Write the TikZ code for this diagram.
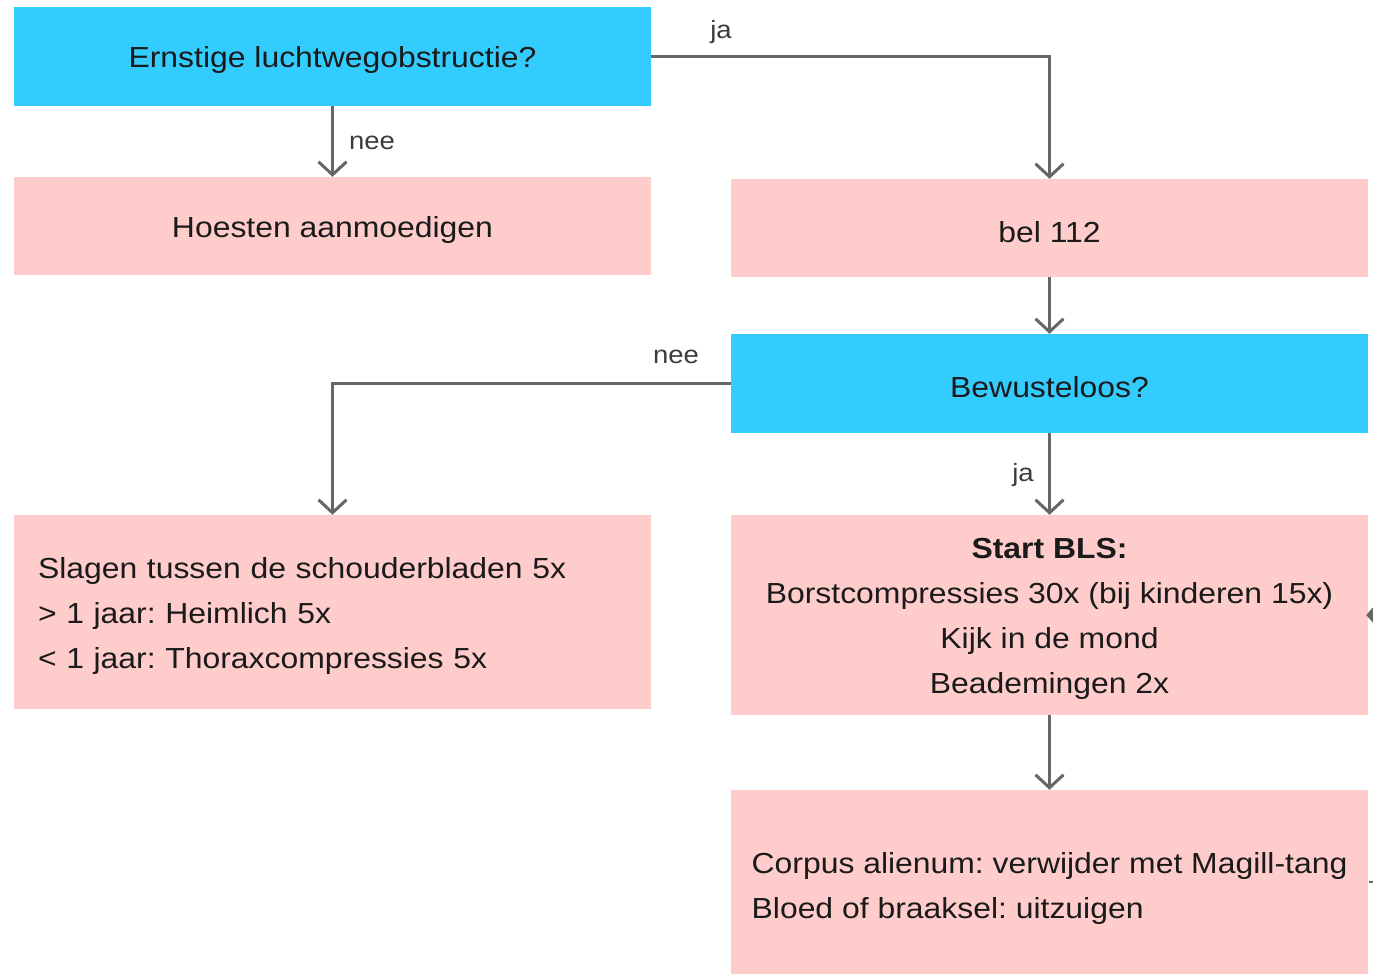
\documentclass[tikz,border=0pt]{standalone}
\usepackage{fontspec}
\setmainfont[FakeStretch=1.1]{Liberation Sans}
\usetikzlibrary{arrows.meta}
\definecolor{qblue}{HTML}{33CCFF}
\definecolor{apink}{HTML}{FFCCCC}
\definecolor{lgray}{HTML}{666666}
\definecolor{tgray}{HTML}{1A1A1A}
\begin{document}
\frenchspacing
\begin{tikzpicture}[x=1pt,y=-1pt,
  boxbase/.style={draw=none, minimum width=637, inner sep=0},
  qbox/.style={boxbase, fill=qblue},
  abox/.style={boxbase, fill=apink},
  txt/.style={inner sep=0, text=tgray, yshift=-4pt, font=\fontsize{29}{45}\selectfont},
  conn/.style={draw=lgray, line width=3pt, -{Straight Barb[length=13pt,width=28pt,line width=3pt]}},
  lbl/.style={text=tgray!85, font=\fontsize{25}{30}\selectfont, inner sep=0}
]
\useasboundingbox (0,0) rectangle (1373,974);
\node[qbox, minimum height=98] (b1) at (332.5,56.5) {};
\node[abox, minimum height=98] (b2) at (332.5,226) {};
\node[abox, minimum height=98] (b3) at (1049.5,228) {};
\node[qbox, minimum height=99] (b4) at (1049.5,383.5) {};
\node[abox, minimum height=194] (b5) at (332.5,612) {};
\node[abox, minimum height=200] (b6) at (1049.5,615) {};
\node[abox, minimum height=188] (b7) at (1049.5,884) {};
\node[txt] (t1) at (b1) {Ernstige luchtwegobstructie?};
\node[txt] (t2) at (b2) {Hoesten aanmoedigen};
\node[txt] (t3) at (b3) {bel 112};
\node[txt] (t4) at (b4) {Bewusteloos?};
\node[txt, text width=589, align=left] (t5) at (b5)
  {Slagen tussen de schouderbladen 5x\\ > 1 jaar: Heimlich 5x\\ < 1 jaar: Thoraxcompressies 5x};
\node[txt, align=center] (t6) at (b6)
  {\textbf{Start BLS:}\\ Borstcompressies 30x (bij kinderen 15x)\\ Kijk in de mond\\ Beademingen 2x};
\node[txt, align=left] (t7) at (b7)
  {Corpus alienum: verwijder met Magill-tang\\ Bloed of braaksel: uitzuigen};
\coordinate (offr) at (1400,615);
\coordinate (offr2) at (1400,882);
\coordinate (b7r) at (1369,882);
\draw[conn] (b1.south) -- (b2.north);
\draw[conn] (b1.east) -| (b3.north);
\draw[conn] (b3.south) -- (b4.north);
\draw[conn] (b4.west) -| (b5.north);
\draw[conn] (b4.south) -- (b6.north);
\draw[conn] (b6.south) -- (b7.north);
\draw[draw=lgray, line width=3pt, shorten >=-2pt, -{Triangle[length=9pt,width=20pt]}] (offr) -- (b6.east);
\draw[draw=lgray, line width=2.5pt] (b7r) -- (offr2);
\node[lbl] (l1) at (372,143) {nee};
\node[lbl] (l2) at (721,32) {ja};
\node[lbl] (l3) at (676,357) {nee};
\node[lbl] (l4) at (1023,475) {ja};
\end{tikzpicture}
\end{document}
